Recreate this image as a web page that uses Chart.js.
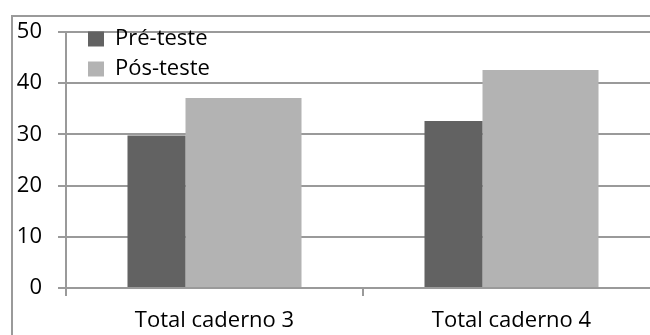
<!DOCTYPE html>
<html>
<head>
<meta charset="utf-8">
<script src="https://cdn.jsdelivr.net/npm/chart.js@4/dist/chart.umd.min.js"></script>
<style>
  html, body { margin: 0; padding: 0; background: #fff; overflow: hidden; width: 650px; height: 335px; }
  #frame { position: absolute; left: 11px; top: 15px; width: 720px; height: 360px;
           border-left: 2px solid #9a9a9a; border-top: 2px solid #9a9a9a; }
  #wrap { position: absolute; left: 0; top: 0; width: 700px; height: 330px; }
</style>
</head>
<body>
<div id="frame"><div id="wrap"><canvas id="c"></canvas></div></div>
<script>
// Scores per notebook, before and after the test
const categories = ['Total caderno 3', 'Total caderno 4'];
const preTeste = [29.8, 32.6];
const posTeste = [37.1, 42.6];
const yTicks = [0, 10, 20, 30, 40, 50];

const FONT = { family: "'Open Sans', 'Noto Sans', sans-serif", size: 22 };
const GRID = '#9a9a9a';

// Nudge the in-plot legend a little right of the value axis and near the top
const legendOffset = {
  id: 'legendOffset',
  afterLayout(chart) {
    const lg = chart.legend;
    if (!lg) return;
    const w = lg.width, h = lg.height;
    lg.left = chart.chartArea.left + 14;
    lg.top = 3;
    lg.right = lg.left + w;
    lg.bottom = lg.top + h;
  }
};

new Chart(document.getElementById('c'), {
  type: 'bar',
  data: {
    labels: categories,
    datasets: [
      {
        label: 'Pré-teste',
        data: preTeste,
        backgroundColor: '#626262',
        borderWidth: 0,
        categoryPercentage: 0.78125,
        barPercentage: 0.5
      },
      {
        label: 'Pós-teste',
        data: posTeste,
        backgroundColor: '#b3b3b3',
        borderWidth: 0,
        categoryPercentage: 0.390625,
        barPercentage: 2
      }
    ]
  },
  plugins: [legendOffset],
  options: {
    responsive: true,
    maintainAspectRatio: false,
    animation: false,
    layout: { padding: { left: 0, top: 15, right: 53, bottom: 0 } },
    plugins: {
      tooltip: { enabled: false },
      legend: {
        position: 'chartArea',
        align: 'start',
        labels: {
          color: '#000',
          font: FONT,
          boxWidth: 16,
          boxHeight: 15,
          padding: 8
        }
      }
    },
    scales: {
      x: {
        offset: true,
        grid: { offset: true, drawOnChartArea: false, drawTicks: true, tickLength: 8, color: GRID, lineWidth: 2 },
        border: { display: true, color: GRID, width: 2 },
        ticks: { color: '#000', font: FONT, padding: 12, maxRotation: 0 },
        afterFit: s => { s.height = 59; s.paddingLeft = 0; s.paddingRight = 0; }
      },
      y: {
        min: 0,
        max: 50,
        afterBuildTicks: s => { s.ticks = yTicks.map(v => ({ value: v })); },
        grid: { color: GRID, lineWidth: 2, tickLength: 8 },
        border: { display: true, color: GRID, width: 2 },
        ticks: { color: '#000', font: FONT, padding: 16 },
        afterFit: s => { s.width = 53; s.paddingTop = 0; s.paddingBottom = 0; }
      }
    }
  }
});
</script>
</body>
</html>
